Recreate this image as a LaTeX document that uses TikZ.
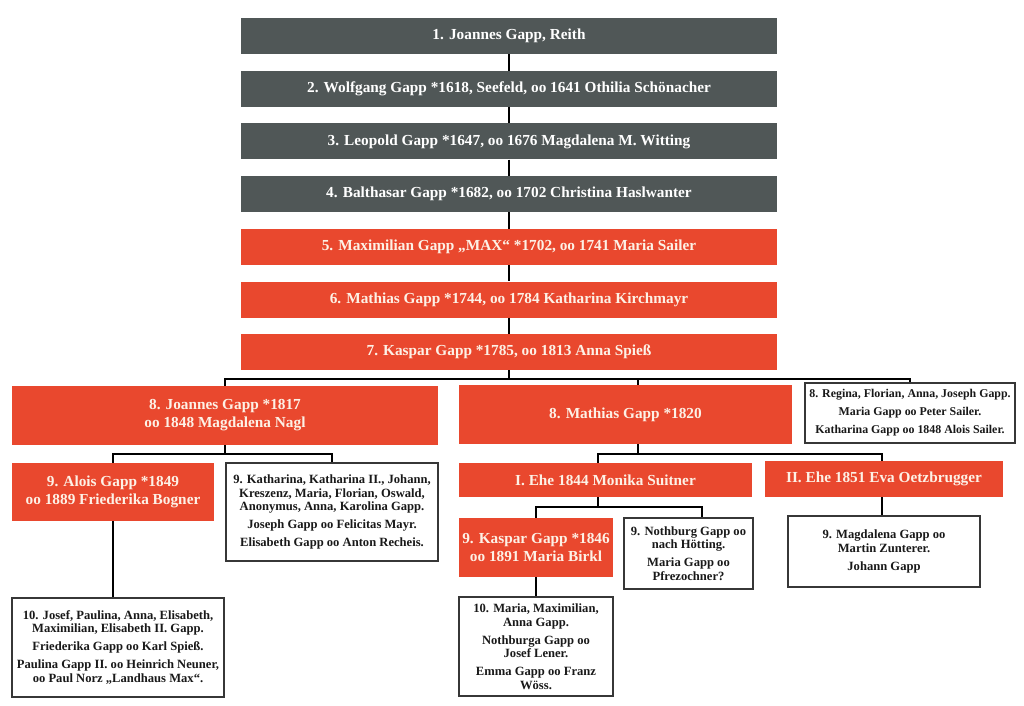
\documentclass[tikz,border=0pt]{standalone}
\usepackage{fontspec}
\setmainfont{Liberation Serif}
\usetikzlibrary{positioning}

\definecolor{ahnengrau}{RGB}{80,87,87}
\definecolor{stammrot}{RGB}{233,72,46}
\definecolor{creme}{RGB}{253,241,230}
\definecolor{rahmen}{RGB}{55,55,55}
\definecolor{schrift}{RGB}{25,25,25}

\tikzset{
	grauBox/.style={fill=ahnengrau, text=white, inner sep=0pt, minimum width=536pt, minimum height=36pt, align=center, font=\bfseries\fontsize{15.3}{18}\selectfont},
	rotBox/.style={grauBox, fill=stammrot, text=creme},
	weissBox/.style={draw=rahmen, line width=1.3pt, fill=white, text=schrift, inner sep=0pt, align=center, font=\bfseries\fontsize{12.6}{13.5}\selectfont},
	linie/.style={line width=2pt, black},
}

\begin{document}
\begin{tikzpicture}[x=1pt,y=-1pt]
	\useasboundingbox (0,0) rectangle (1024,705);

	\node [grauBox] (g1) at (509,36) {1. Joannes Gapp, Reith};
	\node [grauBox, below=16.3pt of g1] (g2) {2. Wolfgang Gapp *1618, Seefeld, oo 1641 Othilia Schönacher};
	\node [grauBox, below=16.3pt of g2] (g3) {3. Leopold Gapp *1647, oo 1676 Magdalena M. Witting};
	\node [grauBox, below=16.3pt of g3] (g4) {4. Balthasar Gapp *1682, oo 1702 Christina Haslwanter};
	\node [rotBox, below=16.3pt of g4] (g5) {5. Maximilian Gapp „MAX“ *1702, oo 1741 Maria Sailer};
	\node [rotBox, below=16.3pt of g5] (g6) {6. Mathias Gapp *1744, oo 1784 Katharina Kirchmayr};
	\node [rotBox, below=16.3pt of g6] (g7) {7. Kaspar Gapp *1785, oo 1813 Anna Spieß};

	\node [rotBox, minimum width=426pt, minimum height=59pt] (j8) at (225,415.5) {8. Joannes Gapp *1817\\oo 1848 Magdalena Nagl};
	\node [rotBox, minimum width=333pt, minimum height=59pt] (m8) at (625.5,414.5) {8. Mathias Gapp *1820};
	\node [weissBox, minimum width=210pt, minimum height=60pt, font=\bfseries\fontsize{11.9}{18}\selectfont] (r8) at (910,413) {8. Regina, Florian, Anna, Joseph Gapp.\\Maria Gapp oo Peter Sailer.\\Katharina Gapp oo 1848 Alois Sailer.};

	\node [rotBox, minimum width=202pt, minimum height=58pt] (a9) at (113,492) {9. Alois Gapp *1849\\oo 1889 Friederika Bogner};
	\node [weissBox, minimum width=212pt, minimum height=98pt] (k9) at (332,512) {9. Katharina, Katharina II., Johann,\\Kreszenz, Maria, Florian, Oswald,\\Anonymus, Anna, Karolina Gapp.\\[4.5pt]Joseph Gapp oo Felicitas Mayr.\\[4.5pt]Elisabeth Gapp oo Anton Recheis.};
	\node [weissBox, minimum width=212pt, minimum height=99pt] (a10) at (118,647.5) {10. Josef, Paulina, Anna, Elisabeth,\\Maximilian, Elisabeth II. Gapp.\\[4.5pt]Friederika Gapp oo Karl Spieß.\\[4.5pt]Paulina Gapp II. oo Heinrich Neuner,\\oo Paul Norz „Landhaus Max“.};

	\node [rotBox, minimum width=293pt, minimum height=34pt] (e1) at (605.5,480) {I. Ehe 1844 Monika Suitner};
	\node [rotBox, minimum width=238pt, minimum height=36pt] (e2) at (884,479) {II. Ehe 1851 Eva Oetzbrugger};

	\node [rotBox, minimum width=154pt, minimum height=59pt] (k46) at (536,547.5) {9. Kaspar Gapp *1846\\oo 1891 Maria Birkl};
	\node [weissBox, minimum width=129pt, minimum height=71pt] (n9) at (688.5,553.5) {9. Nothburg Gapp oo\\nach Hötting.\\[4.5pt]Maria Gapp oo\\Pfrezochner?};
	\node [weissBox, minimum width=192pt, minimum height=71pt] (m9) at (884,551.5) {9. Magdalena Gapp oo\\Martin Zunterer.\\[4.5pt]Johann Gapp};
	\node [weissBox, minimum width=154pt, minimum height=99pt] (k10) at (536,646.5) {10. Maria, Maximilian,\\Anna Gapp.\\[4.5pt]Nothburga Gapp oo\\Josef Lener.\\[4.5pt]Emma Gapp oo Franz\\Wöss.};

	\draw [linie] (g1.south) -- (g2.north) (g2.south) -- (g3.north) (g3.south) -- (g4.north)
		(g4.south) -- (g5.north) (g5.south) -- (g6.north) (g6.south) -- (g7.north);
	\draw [linie] (g7.south) -- ++(0,9) -| (j8.north);
	\draw [linie] (g7.south) -- ++(0,9) -| ([xshift=12.5pt]m8.north);
	\draw [linie] (g7.south) -- ++(0,9) -| (r8.north);
	\draw [linie] (j8.south) -- ++(0,9) -| (a9.north);
	\draw [linie] (j8.south) -- ++(0,9) -| (k9.north);
	\draw [linie] (a9.south) -- (a9.south |- a10.north);
	\draw [linie] ([xshift=12.5pt]m8.south) -- ++(0,10) -| ([xshift=-7.5pt]e1.north);
	\draw [linie] ([xshift=12.5pt]m8.south) -- ++(0,10) -| ([xshift=-2pt]e2.north);
	\draw [linie] ([xshift=-7.5pt]e1.south) -- ++(0,10) -| (k46.north);
	\draw [linie] ([xshift=-7.5pt]e1.south) -- ++(0,10) -| ([xshift=13.5pt]n9.north);
	\draw [linie] ([xshift=-2pt]e2.south) -- ([xshift=-2pt]e2.south |- m9.north);
	\draw [linie] (k46.south) -- (k10.north);
\end{tikzpicture}
\end{document}
